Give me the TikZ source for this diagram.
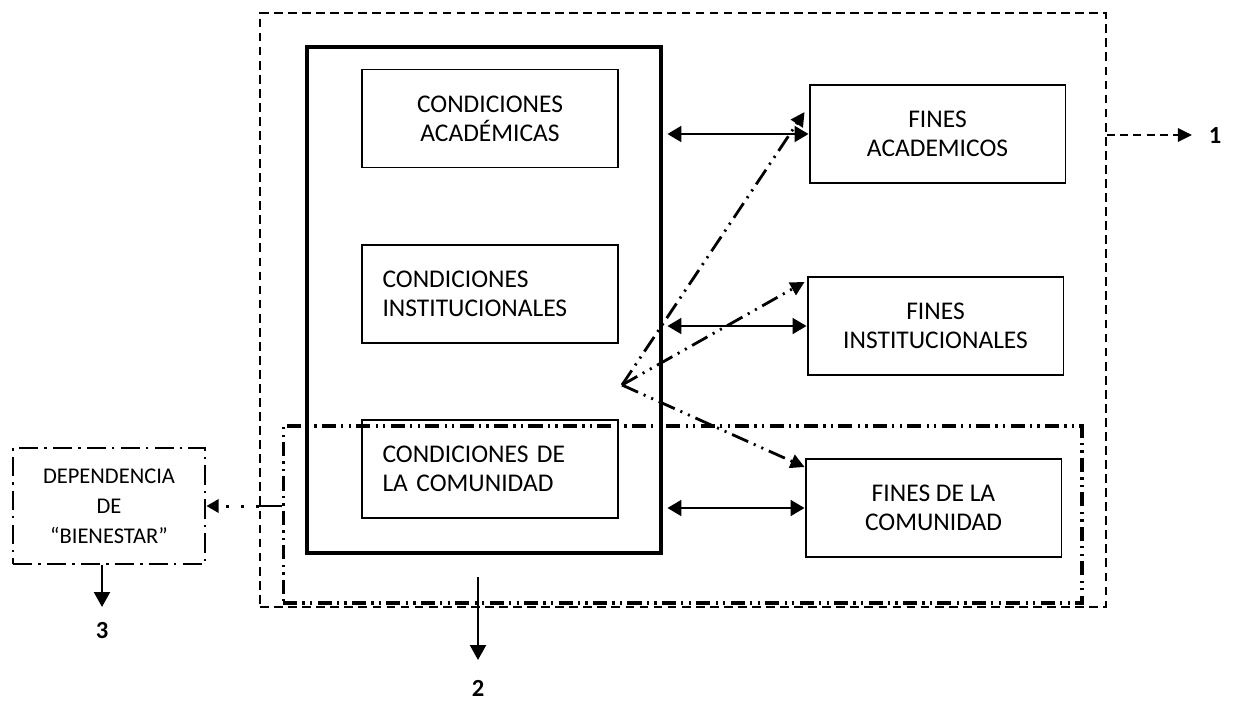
\documentclass[tikz,border=0pt]{standalone}
\usepackage{fontspec}
\setmainfont{Carlito}
\usepackage{tikz}
\usetikzlibrary{positioning,arrows.meta,calc}

\begin{document}
\begin{tikzpicture}[x=0.02cm,y=-0.02cm,
  box/.style={draw,line width=1.1pt,minimum width=5.12cm,minimum height=1.96cm,align=center,font=\fontsize{14.5}{16.5}\selectfont},
  leftbox/.style={box,align=left,text width=4.3cm,inner xsep=0.4cm},
  dbl/.style={{Triangle[length=8pt,width=9pt]}-{Triangle[length=8pt,width=9pt]},line width=1.5pt,shorten <=2.5pt},
  ddot/.style={-{Triangle[length=8pt,width=8pt]},line width=1.6pt,dash pattern=on 10pt off 3.5pt on 1.2pt off 3.5pt on 1.2pt off 3.5pt},
  vert/.style={-{Triangle[length=8.5pt,width=9pt]},line width=1.5pt},
  lbl/.style={font=\fontsize{14}{16}\selectfont\bfseries}]
\useasboundingbox (0,0) rectangle (1233,700);

% frames
\node[draw,line width=1.3pt,dash pattern=on 5pt off 3pt,minimum width=16.92cm,minimum height=11.88cm] (outer) at (683,310) {};
\node[draw,line width=2.3pt,minimum width=7.08cm,minimum height=10.12cm] (cond) at (484,300) {};
\node[draw,line width=1.8pt,dash pattern=on 8pt off 3pt on 1.3pt off 3pt on 1.3pt off 3pt,minimum width=15.98cm,minimum height=3.54cm] (comun) at (682.5,514.5) {};

% condiciones
\node[box] (ca) at (490,118.5) {CONDICIONES\\ACADÉMICAS};
\node[leftbox] (ci) at (490,294) {CONDICIONES\\INSTITUCIONALES};
\node[leftbox] (cc) at (490,469) {CONDICIONES DE\\LA COMUNIDAD};

% fines
\node[box] (fa) at (937.5,134) {FINES\\ACADEMICOS};
\node[box] (fi) at (935.5,326) {FINES\\INSTITUCIONALES};
\node[box] (fc) at (933.5,508) {FINES DE LA\\COMUNIDAD};

% dependencia
\node[draw,line width=1.6pt,dash pattern=on 11pt off 3.5pt on 1.3pt off 3.5pt,minimum width=3.84cm,minimum height=2.32cm,align=center,font=\fontsize{12.8}{17}\selectfont] (dep) at (109,506) {DEPENDENCIA\\DE\\“BIENESTAR”};

% condiciones <-> fines
\draw[dbl] (cond.east |- fa.west) -- (fa.west);
\draw[dbl] (cond.east |- fi.west) -- (fi.west);
\draw[dbl] (cond.east |- fc.west) -- (fc.west);

% hub
\coordinate (hub) at (622,385);
\draw[ddot] (hub) -- ([shift={(-4,-22)}]fa.west);
\draw[ddot] (hub) -- ([shift={(-2,-44)}]fi.west);
\draw[ddot] (hub) -- ([shift={(0,-41)}]fc.west);

% comunidad -> dependencia
\draw[line width=1.4pt] (comun.west |- dep.east) -- (outer.west |- dep.east);
\draw[line width=1.7pt,dash pattern=on 1.5pt off 7pt,-{Triangle[length=7pt,width=7.5pt]}] (outer.west |- dep.east) -- (dep.east);

% salidas
\coordinate (e1) at (1192,135);
\node[lbl] (n1) at (1215,136) {1};
\draw[line width=1.3pt,dash pattern=on 4.5pt off 3pt,-{Triangle[length=8pt,width=7.5pt]}] (outer.east |- e1) -- (e1);
\coordinate (s2) at (478,577);
\coordinate (e2) at (478,660);
\node[lbl] (n2) at (478,688) {2};
\draw[vert] (s2) -- (e2);
\coordinate (e3) at (102,607);
\node[lbl] (n3) at (102,631) {3};
\draw[vert] (dep.south -| e3) -- (e3);
\end{tikzpicture}
\end{document}
